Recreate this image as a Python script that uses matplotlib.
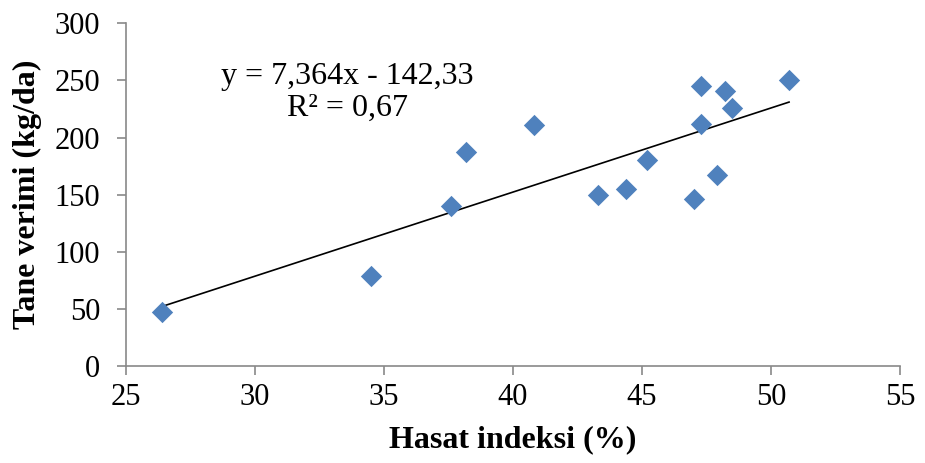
import numpy as np
import matplotlib.pyplot as plt

plt.rcParams['font.family'] = ['Liberation Serif', 'DejaVu Serif']

# Hasat indeksi (%) vs Tane verimi (kg/da)
hasat_indeksi = [26.4, 34.5, 37.6, 38.2, 40.8, 43.3, 44.4, 45.2, 47.0,
                 47.3, 47.3, 47.9, 48.2, 48.5, 50.7]
tane_verimi = [47, 79, 140, 187, 211, 150, 155, 180, 146,
               212, 245, 167, 241, 226, 250]

slope = 7.364
intercept = -142.33
equation_text = "y = 7,364x - 142,33\nR² = 0,67"

fig = plt.figure(figsize=(9.25, 4.63), dpi=100)
ax = fig.add_axes([0.136, 0.2095, 0.837, 0.7402])

ax.scatter(hasat_indeksi, tane_verimi, marker='D', s=118, color='#4F81BD',
           linewidths=0, zorder=3)

xs = np.array([min(hasat_indeksi), max(hasat_indeksi)])
ax.plot(xs, slope * xs + intercept, color='black', linewidth=1.2, zorder=2)

ax.text(33.6, 239.5, equation_text, ha='center', va='center', fontsize=23,
        linespacing=1.15)

ax.set_xlim(25, 55)
ax.set_ylim(0, 300)
ax.set_xticks(range(25, 60, 5))
ax.set_yticks(range(0, 350, 50))

for side in ['top', 'right']:
    ax.spines[side].set_visible(False)
for side in ['left', 'bottom']:
    ax.spines[side].set_color('#898989')
    ax.spines[side].set_linewidth(1.2)

ax.tick_params(axis='both', direction='out', length=6.5, width=1.2,
               color='#898989', labelsize=22)
ax.tick_params(axis='y', pad=12)
ax.tick_params(axis='x', pad=6)

ax.set_xlabel("Hasat indeksi (%)", fontsize=23, fontweight='bold', va='center')
ax.set_ylabel("Tane verimi (kg/da)", fontsize=23, fontweight='bold', va='center')
ax.xaxis.set_label_coords(0.5, -0.216)
ax.yaxis.set_label_coords(-0.127, 0.5)

fig.savefig("out.png", dpi=100)
